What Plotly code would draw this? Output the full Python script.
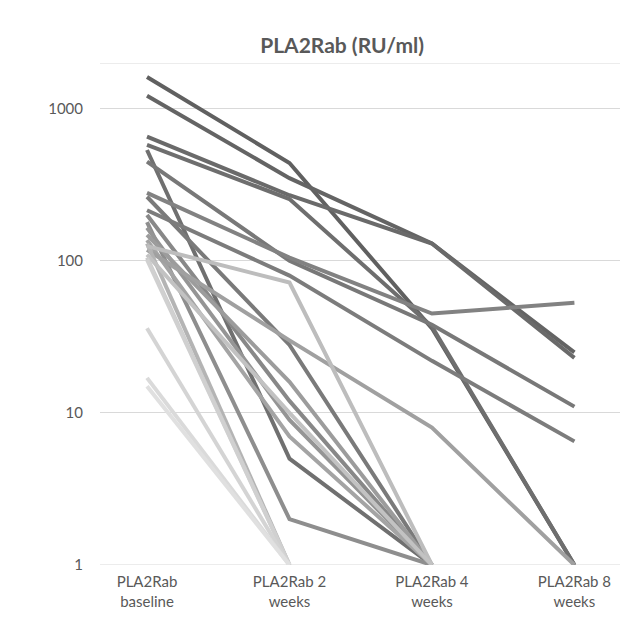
import plotly.graph_objects as go
import math

categories = ["PLA2Rab<br>baseline", "PLA2Rab 2<br>weeks", "PLA2Rab 4<br>weeks", "PLA2Rab 8<br>weeks"]

# one entry per patient; None = no further value plotted
baseline = [1620, 1220, 655, 580, 536, 450, 280, 264, 215, 200, 180, 165, 148, 137, 118, 130, 125, 110, 105, 102, 36, 17, 15]
week2    = [440,  350,  270, 255, 5,   100, 105, 28,  80,  12,  2,   9,   16,  7,   30,  1,   72,  10,  1,   1,   1,  1,  1]
week4    = [36,   130,  130, 37,  1,   38,  45,  1,   22,  1,   1,   1,   1,   1,   8,   None, 1,  1,   None, None, None, None, None]
week8    = [1,    25,   23,  1,   None, 11, 53,  None, 6.5, None, None, None, None, None, 1, None, None, None, None, None, None, None, None]

line_colors = ["#606060", "#646464", "#6a6a6a", "#6e6e6e", "#707070", "#787878", "#828282", "#7a7a7a",
               "#7c7c7c", "#888888", "#8e8e8e", "#959595", "#9c9c9c", "#a4a4a4", "#a0a0a0", "#b4b4b4",
               "#bdbdbd", "#c2c2c2", "#cbcbcb", "#d0d0d0", "#d4d4d4", "#dadada", "#e0e0e0"]

ytick_vals = [1, 10, 100, 1000]
ytick_text = ["1", "10", "100", "1000"]
y_max = 2000

fig = go.Figure()
for i in range(len(baseline)):
    ys = [baseline[i], week2[i], week4[i], week8[i]]
    fig.add_trace(go.Scatter(
        x=[0, 1, 2, 3], y=ys, mode="lines",
        line=dict(color=line_colors[i], width=4),
        connectgaps=False, showlegend=False, hoverinfo="skip"))

# border gridlines at the bottom (1) and top (axis max)
for yv in (1, y_max):
    fig.add_shape(type="line", xref="paper", yref="y", x0=0, x1=1, y0=yv, y1=yv,
                  line=dict(color="#d9d9d9", width=1), layer="below")

fig.update_layout(
    width=628, height=620,
    paper_bgcolor="white", plot_bgcolor="white",
    margin=dict(l=92, r=16, t=55, b=63),
    title=dict(text="<b>PLA2Rab (RU/ml)</b>", x=0.532, xanchor="center", y=0.94, yanchor="middle",
               font=dict(family="Lato, Liberation Sans, sans-serif", size=21, color="#595959")),
    font=dict(family="Lato, Liberation Sans, sans-serif", size=15, color="#595959"),
)
fig.update_xaxes(
    range=[-0.33, 3.32], tickmode="array", tickvals=[0, 1, 2, 3], ticktext=categories,
    showgrid=False, zeroline=False, showline=False, ticks="",
    ticklabelstandoff=6, tickfont=dict(size=15, color="#595959"),
)
fig.update_yaxes(
    type="log", range=[0, math.log10(y_max)], tickmode="array", tickvals=ytick_vals, ticktext=ytick_text,
    showgrid=True, gridcolor="#d9d9d9", gridwidth=1, zeroline=False, showline=False, ticks="",
    ticklabelstandoff=16, tickfont=dict(size=15, color="#595959"),
)

fig.write_html("out.html")
